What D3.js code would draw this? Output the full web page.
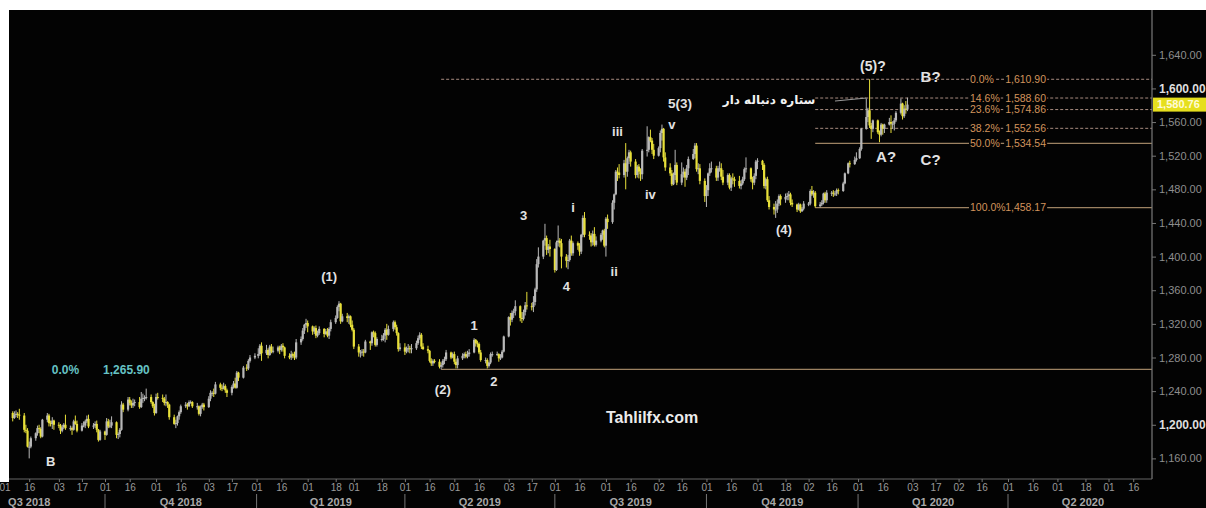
<!DOCTYPE html>
<html><head><meta charset="utf-8">
<script src="https://cdn.jsdelivr.net/npm/d3@7"></script>
<style>body{margin:0;background:#fff}svg{display:block}</style>
</head><body><svg id="c" width="1206" height="508"></svg>
<script>
// ---------------- DATA (XAU/USD daily) ----------------
const months = ["2018-08","2018-09","2018-10","2018-11","2018-12","2019-01","2019-02","2019-03","2019-04","2019-05","2019-06","2019-07","2019-08","2019-09","2019-10","2019-11","2019-12","2020-01"];
const monthDays = [
 [1,2,3,6,7,8,9,10,13,14,15,16,17,20,21,22,23,24,27,28,29,30,31],
 [3,4,5,6,7,10,11,12,13,14,17,18,19,20,21,24,25,26,27,28],
 [1,2,3,4,5,8,9,10,11,12,15,16,17,18,19,22,23,24,25,26,29,30,31],
 [1,2,5,6,7,8,9,12,13,14,15,16,19,20,21,22,23,26,27,28,29,30],
 [3,4,5,6,7,10,11,12,13,14,17,18,19,20,21,24,26,27,28,31],
 [2,3,4,7,8,9,10,11,14,15,16,17,18,21,22,23,24,25,28,29,30,31],
 [1,4,5,6,7,8,11,12,13,14,15,18,19,20,21,22,25,26,27,28],
 [1,4,5,6,7,8,11,12,13,14,15,18,19,20,21,22,25,26,27,28,29],
 [1,2,3,4,5,8,9,10,11,12,15,16,17,18,19,22,23,24,25,26,29,30],
 [1,2,3,6,7,8,9,10,13,14,15,16,17,20,21,22,23,24,27,28,29,30,31],
 [3,4,5,6,7,10,11,12,13,14,17,18,19,20,21,24,25,26,27,28],
 [1,2,3,4,5,8,9,10,11,12,15,16,17,18,19,22,23,24,25,26,29,30,31],
 [1,2,5,6,7,8,9,12,13,14,15,16,19,20,21,22,23,26,27,28,29,30],
 [2,3,4,5,6,9,10,11,12,13,16,17,18,19,20,23,24,25,26,27,30],
 [1,2,3,4,7,8,9,10,11,14,15,16,17,18,21,22,23,24,25,28,29,30,31],
 [1,4,5,6,7,8,11,12,13,14,15,18,19,20,21,22,25,26,27,28,29],
 [2,3,4,5,6,9,10,11,12,13,16,17,18,19,20,23,24,26,27,30,31],
 [2,3,6,7,8,9,10,13,14,15,16,17,20,21,22,23,24,27,28,29,30,31]
];
const opens = [
 [1223,1216,1208,1214,1208,1212,1213,1212,1211,1194,1193,1174,1174,1184,1190,1196,1195,1186,1206,1211,1202,1201,1205],
 [1200,1199,1193,1197,1200,1196,1196,1194,1204,1201,1193,1199,1199,1204,1207,1198,1199,1201,1194,1182],
 [1192,1188,1204,1198,1199,1203,1188,1189,1194,1224,1218,1230,1226,1223,1226,1227,1221,1231,1232,1232,1233,1227,1222],
 [1214,1233,1232,1231,1226,1227,1224,1209,1201,1202,1210,1215,1222,1224,1222,1227,1227,1222,1222,1213,1221,1224],
 [1221,1231,1238,1238,1237,1248,1244,1243,1246,1241,1238,1245,1249,1244,1262,1256,1268,1267,1276,1280],
 [1282,1284,1294,1285,1289,1283,1293,1287,1288,1292,1289,1294,1292,1282,1280,1284,1282,1280,1298,1302,1312,1319],
 [1321,1317,1311,1315,1306,1309,1314,1308,1311,1306,1314,1322,1327,1340,1344,1323,1329,1327,1329,1319],
 [1313,1293,1286,1286,1287,1286,1299,1297,1310,1309,1295,1302,1302,1306,1313,1307,1314,1322,1316,1309,1290],
 [1292,1287,1291,1291,1290,1291,1297,1303,1307,1293,1290,1288,1276,1273,1276,1275,1269,1271,1276,1278,1286,1280],
 [1284,1275,1271,1279,1282,1284,1281,1284,1286,1301,1297,1296,1286,1277,1277,1270,1274,1284,1284,1284,1279,1280,1287],
 [1305,1328,1325,1333,1335,1341,1327,1326,1334,1342,1341,1340,1346,1361,1391,1400,1419,1422,1408,1412],
 [1409,1384,1417,1419,1416,1400,1395,1396,1419,1404,1416,1413,1406,1426,1446,1426,1425,1417,1427,1414,1419,1426,1431],
 [1413,1445,1441,1464,1474,1501,1500,1497,1511,1501,1517,1524,1513,1497,1507,1501,1498,1526,1527,1542,1538,1527],
 [1520,1529,1547,1552,1518,1506,1499,1486,1497,1509,1488,1498,1501,1494,1505,1516,1522,1532,1504,1505,1490],
 [1472,1479,1499,1505,1505,1494,1505,1505,1495,1488,1497,1482,1493,1492,1490,1484,1487,1492,1504,1505,1492,1488,1496],
 [1513,1514,1509,1484,1492,1467,1459,1456,1456,1463,1472,1468,1471,1472,1474,1464,1462,1456,1462,1454,1457],
 [1463,1463,1478,1474,1476,1460,1462,1464,1475,1467,1476,1476,1475,1475,1479,1478,1487,1499,1511,1510,1515],
 [1517,1528,1552,1566,1574,1556,1552,1562,1548,1545,1557,1552,1557,1560,1558,1558,1562,1571,1582,1567,1576,1575]
];
const highs = [
 [1227,1218,1218,1216,1216,1217,1215,1219,1214,1200,1196,1180,1186,1191,1199,1200,1197,1207,1214,1213,1205,1209,1206],
 [1203,1201,1200,1202,1212,1199,1198,1206,1211,1205,1202,1204,1206,1211,1212,1202,1204,1205,1195,1194],
 [1193,1208,1207,1206,1210,1204,1191,1196,1228,1226,1233,1233,1229,1231,1230,1233,1239,1237,1235,1243,1236,1228,1225],
 [1237,1238,1236,1233,1236,1228,1225,1212,1206,1211,1217,1224,1227,1226,1229,1229,1228,1226,1223,1223,1226,1226],
 [1234,1241,1240,1243,1251,1250,1248,1250,1248,1243,1247,1252,1256,1264,1263,1270,1272,1278,1283,1285],
 [1291,1296,1298,1295,1291,1295,1296,1293,1294,1294,1296,1297,1293,1285,1288,1286,1287,1302,1305,1315,1320,1326],
 [1324,1318,1317,1318,1312,1317,1315,1314,1315,1316,1325,1330,1342,1347,1345,1332,1333,1331,1330,1324],
 [1315,1296,1289,1290,1290,1301,1300,1311,1312,1311,1304,1307,1309,1315,1320,1318,1324,1324,1319,1310,1297],
 [1297,1293,1296,1294,1296,1300,1306,1310,1309,1297,1294,1289,1279,1278,1278,1278,1274,1278,1281,1289,1287,1286],
 [1287,1278,1282,1285,1286,1287,1288,1290,1303,1302,1300,1298,1289,1280,1279,1275,1286,1287,1287,1285,1284,1289,1306],
 [1329,1333,1336,1338,1348,1342,1334,1337,1346,1358,1345,1353,1363,1397,1411,1420,1439,1425,1415,1420],
 [1410,1419,1437,1422,1421,1403,1402,1421,1425,1418,1418,1416,1427,1449,1453,1430,1428,1431,1435,1424,1428,1432,1433],
 [1447,1450,1467,1475,1503,1506,1510,1515,1535,1519,1527,1526,1516,1509,1510,1505,1528,1555,1543,1551,1541,1534],
 [1531,1550,1557,1553,1524,1511,1503,1500,1527,1512,1512,1506,1504,1509,1519,1528,1535,1535,1511,1510,1493],
 [1485,1500,1511,1513,1508,1508,1513,1511,1503,1499,1499,1495,1499,1495,1496,1491,1495,1506,1518,1506,1495,1499,1515],
 [1517,1515,1511,1494,1495,1472,1463,1466,1468,1474,1474,1475,1476,1478,1476,1468,1463,1464,1463,1459,1466],
 [1465,1480,1484,1479,1478,1465,1467,1476,1477,1479,1478,1479,1478,1481,1481,1489,1500,1512,1514,1519,1524],
 [1530,1553,1588,1577,1610.9,1559,1563,1563,1550,1559,1558,1558,1565,1568,1561,1565,1573,1588,1583,1580,1585,1589]
];
const lows = [
 [1212,1204,1206,1204,1207,1209,1208,1206,1191,1190,1173,1160,1172,1181,1187,1190,1184,1185,1203,1198,1198,1195,1194],
 [1196,1189,1191,1195,1194,1193,1188,1193,1200,1191,1192,1197,1196,1202,1196,1195,1196,1191,1180,1181],
 [1182,1187,1196,1196,1196,1184,1183,1185,1193,1215,1216,1223,1220,1220,1222,1219,1220,1226,1228,1230,1225,1220,1211],
 [1213,1230,1227,1223,1222,1220,1206,1200,1196,1199,1206,1213,1220,1218,1221,1225,1220,1218,1211,1210,1219,1217],
 [1220,1228,1234,1233,1236,1241,1240,1242,1238,1233,1235,1243,1243,1243,1252,1255,1264,1265,1274,1278],
 [1279,1282,1276,1283,1279,1282,1285,1285,1286,1284,1287,1287,1279,1278,1277,1279,1277,1278,1295,1300,1308,1315],
 [1310,1307,1308,1303,1304,1307,1304,1307,1304,1302,1311,1320,1326,1335,1320,1322,1322,1320,1316,1311],
 [1290,1281,1280,1282,1281,1285,1289,1294,1304,1293,1293,1299,1300,1298,1301,1306,1311,1313,1306,1287,1288],
 [1283,1285,1286,1285,1285,1289,1295,1301,1290,1289,1285,1274,1270,1270,1273,1267,1265.9,1268,1272,1276,1278,1279],
 [1272,1267,1267,1277,1279,1279,1279,1281,1285,1293,1292,1284,1275,1273,1267,1268,1272,1281,1282,1275,1277,1279,1286],
 [1304,1318,1322,1327,1330,1323,1321,1324,1330,1337,1336,1334,1342,1358,1387,1397,1413,1402,1404,1400],
 [1381,1383,1412,1411,1386,1387,1385,1394,1401,1401,1408,1401,1403,1423,1423,1420,1412,1413,1412,1412,1417,1420,1411],
 [1400,1433,1439,1456,1473,1490,1493,1494,1480,1495,1510,1507,1493,1494,1493,1490,1492,1519,1524,1536,1522,1516],
 [1519,1524,1538,1513,1502,1496,1484,1485,1491,1485,1485,1494,1483,1491,1497,1515,1517,1501,1498,1486,1465],
 [1459,1472,1496,1500,1490,1490,1501,1491,1485,1485,1480,1478,1486,1483,1481,1480,1485,1490,1500,1489,1480,1485,1492],
 [1504,1503,1481,1480,1465,1456,1450,1446,1452,1460,1461,1464,1467,1467,1461,1459,1453,1455,1452,1453,1455],
 [1460,1461,1472,1470,1458.17,1458.5,1460,1462,1464,1464,1472,1471,1472,1472,1474,1477,1486,1498,1506,1509,1513],
 [1516,1526,1551,1560,1553,1540,1548,1546,1536,1543,1545,1547,1556,1547,1552,1550,1560,1569,1563,1565,1570,1573]
];
const closes = [
 [1216,1208,1214,1208,1212,1213,1212,1211,1194,1193,1174,1174,1184,1190,1196,1195,1186,1206,1211,1202,1201,1205,1200],
 [1199,1193,1197,1200,1196,1196,1194,1204,1201,1193,1199,1199,1204,1207,1198,1199,1201,1194,1182,1192],
 [1188,1204,1198,1199,1203,1188,1189,1194,1224,1218,1230,1226,1223,1226,1227,1221,1231,1232,1232,1233,1227,1222,1214],
 [1233,1232,1231,1226,1227,1224,1209,1201,1202,1210,1215,1222,1224,1222,1227,1227,1222,1222,1213,1221,1224,1221],
 [1231,1238,1238,1237,1248,1244,1243,1246,1241,1238,1245,1249,1244,1262,1256,1268,1267,1276,1280,1282],
 [1284,1294,1285,1289,1283,1293,1287,1288,1292,1289,1294,1292,1282,1280,1284,1282,1280,1298,1302,1312,1319,1321],
 [1317,1311,1315,1306,1309,1314,1308,1311,1306,1314,1322,1327,1340,1344,1323,1329,1327,1329,1319,1313],
 [1293,1286,1286,1287,1286,1299,1297,1310,1309,1295,1302,1302,1306,1313,1307,1314,1322,1316,1309,1290,1292],
 [1287,1291,1291,1290,1291,1297,1303,1307,1293,1290,1288,1276,1273,1276,1275,1269,1271,1276,1278,1286,1280,1284],
 [1275,1271,1279,1282,1284,1281,1284,1286,1301,1297,1296,1286,1277,1277,1270,1274,1284,1284,1284,1279,1280,1287,1305],
 [1328,1325,1333,1335,1341,1327,1326,1334,1342,1341,1340,1346,1361,1391,1400,1419,1422,1408,1412,1409],
 [1384,1417,1419,1416,1400,1395,1396,1419,1404,1416,1413,1406,1426,1446,1426,1425,1417,1427,1414,1419,1426,1431,1413],
 [1445,1441,1464,1474,1501,1500,1497,1511,1501,1517,1524,1513,1497,1507,1501,1498,1526,1527,1542,1538,1527,1520],
 [1529,1547,1552,1518,1506,1499,1486,1497,1509,1488,1498,1501,1494,1505,1516,1522,1532,1504,1505,1490,1472],
 [1479,1499,1505,1505,1494,1505,1505,1495,1488,1497,1482,1493,1492,1490,1484,1487,1492,1504,1505,1492,1488,1496,1513],
 [1514,1509,1484,1492,1467,1459,1456,1456,1463,1472,1468,1471,1472,1474,1464,1462,1456,1462,1454,1457,1463],
 [1463,1478,1474,1476,1460,1462,1464,1475,1467,1476,1476,1475,1475,1479,1478,1487,1499,1511,1510,1515,1517],
 [1528,1552,1566,1574,1556,1552,1562,1548,1545,1557,1552,1557,1560,1558,1558,1562,1571,1582,1567,1576,1575,1580.76]
];
const lastPrice = 1580.76;

const yTicks = [1160,1200,1240,1280,1320,1360,1400,1440,1480,1520,1560,1600,1640];
const yTicksBold = [1200,1600];
const dayTicks = ["2018-08-01","2018-08-16","2018-09-03","2018-09-17","2018-10-01","2018-10-16","2018-11-01","2018-11-16","2018-12-03","2018-12-17",
 "2019-01-01","2019-01-16","2019-02-01","2019-02-18","2019-03-01","2019-03-18","2019-04-01","2019-04-16","2019-05-01","2019-05-16","2019-06-03","2019-06-17",
 "2019-07-01","2019-07-16","2019-08-01","2019-08-16","2019-09-02","2019-09-16","2019-10-01","2019-10-16","2019-11-01","2019-11-18","2019-12-02","2019-12-16",
 "2020-01-01","2020-01-16","2020-02-03","2020-02-17","2020-03-02","2020-03-16","2020-04-01","2020-04-16","2020-05-01","2020-05-18","2020-06-01","2020-06-16"];
const quarterLabels = ["Q3 2018","Q4 2018","Q1 2019","Q2 2019","Q3 2019","Q4 2019","Q1 2020","Q2 2020"];
const quarterStarts = ["2018-07-01","2018-10-01","2019-01-01","2019-04-01","2019-07-01","2019-10-01","2020-01-01","2020-04-01","2020-07-01"];

// Fibonacci retracement (from 1,458.17 low to 1,610.90 high)
const fibPct    = ["0.0%","14.6%","23.6%","38.2%","50.0%","100.0%"];
const fibLevels = [1610.90,1588.60,1574.86,1552.56,1534.54,1458.17];
const fibDashed = [true,true,true,true,false,false];
const fibStart  = ["2019-04-23","2019-12-06","2019-12-06","2019-12-06","2019-12-06","2019-12-06"];
// earlier fib anchor (wave (2) low)
const baseLevel = 1265.90, baseStart = "2019-04-23";
const baseLabels = ["0.0%","1,265.90"], baseLabelDates = ["2018-09-07","2018-10-14"];

// Elliott wave annotations: text, date, price (anchor centre)
const waveText  = ["B","(1)","(2)","1","2","3","4","i","ii","iii","iv","v","5(3)","(4)","(5)?","B?","A?","C?"];
const waveDate  = ["2018-08-29","2019-02-14","2019-04-24","2019-05-13","2019-05-25","2019-06-12","2019-07-08","2019-07-12","2019-08-06","2019-08-08","2019-08-28","2019-09-10","2019-09-15","2019-11-17","2020-01-10","2020-02-14","2020-01-18","2020-02-14"];
const wavePrice = [1157,1377,1242.5,1318.6,1252,1449.5,1365,1459,1383,1549.4,1474.5,1557.7,1582.7,1432.8,1626.7,1613.6,1518.5,1514.9];
const waveSize  = [13,13,13,13,13,13,13,13,13,13,13,13,13.5,13,14,15,15,15];
const trendDates = ["2019-12-18","2020-01-06"], trendPrices = [1585,1588.6];

// ---------------- DRAWING ----------------
(function () {
const W = 1206, H = 508;
const padL = 9, padT = 10, axisX = 1152, axisY = 479;
const parse = d3.timeParse("%Y-%m-%d");
const svg = d3.select("#c");

const x = d3.scaleTime().domain([parse("2018-10-01"), parse("2020-04-01")]).range([105, 1008]);
const y = d3.scaleLinear().domain([1160, 1640]).range([458.4, 54.8]);

const rows = [];
months.forEach((m, i) => monthDays[i].forEach((d, j) => rows.push({
  date: parse(m + "-" + String(d).padStart(2, "0")),
  o: opens[i][j], h: highs[i][j], l: lows[i][j], c: closes[i][j]
})));

svg.append("rect").attr("width", W).attr("height", H).attr("fill", "#fff");
svg.append("rect").attr("x", padL).attr("y", padT).attr("width", W - padL).attr("height", H - padT).attr("fill", "#030303");
svg.append("rect").attr("x", 0).attr("y", 482).attr("width", padL).attr("height", H - 482).attr("fill", "#030303");

svg.append("defs").append("clipPath").attr("id", "plot")
  .append("rect").attr("x", padL).attr("y", padT).attr("width", axisX - padL).attr("height", axisY - padT);

const plot = svg.append("g").attr("clip-path", "url(#plot)");

plot.append("line").attr("x1", x(parse(baseStart))).attr("x2", axisX)
  .attr("y1", y(baseLevel)).attr("y2", y(baseLevel)).attr("stroke", "#9c8262").attr("stroke-width", 1.2);

fibLevels.forEach((lv, i) => {
  plot.append("line").attr("x1", x(parse(fibStart[i]))).attr("x2", axisX)
    .attr("y1", y(lv)).attr("y2", y(lv))
    .attr("stroke", fibDashed[i] ? "#a88c80" : "#9c8262")
    .attr("stroke-width", fibDashed[i] ? 1 : 1.2)
    .attr("stroke-dasharray", fibDashed[i] ? "3,2" : null);
});

plot.append("line")
  .attr("x1", x(parse(trendDates[0]))).attr("y1", y(trendPrices[0]))
  .attr("x2", x(parse(trendDates[1]))).attr("y2", y(trendPrices[1]))
  .attr("stroke", "#9a9a9a").attr("stroke-width", 1);

const upCol = "#b8b8b8", dnCol = "#e8e03a";
const cg = plot.append("g");
cg.selectAll("line.w").data(rows).join("line")
  .attr("x1", d => x(d.date)).attr("x2", d => x(d.date))
  .attr("y1", d => y(d.h)).attr("y2", d => y(d.l))
  .attr("stroke", d => d.c >= d.o ? upCol : dnCol).attr("stroke-width", 1);
cg.selectAll("rect.b").data(rows).join("rect")
  .attr("x", d => x(d.date) - 1.1).attr("width", 2.2)
  .attr("y", d => y(Math.max(d.o, d.c)))
  .attr("height", d => Math.max(1, Math.abs(y(d.o) - y(d.c))))
  .attr("fill", d => d.c >= d.o ? upCol : dnCol);

const fibFont = "Liberation Sans, Arial, sans-serif";
fibLevels.forEach((lv, i) => {
  const g = svg.append("g");
  const t1 = g.append("text").attr("x", axisX - 182).attr("y", y(lv)).attr("dy", "0.35em")
    .attr("font-family", fibFont).attr("font-size", 10.5).attr("fill", "#d2935c").text(fibPct[i]);
  const t2 = g.append("text").attr("x", axisX - 106).attr("y", y(lv)).attr("dy", "0.35em")
    .attr("text-anchor", "end").attr("font-family", fibFont).attr("font-size", 10.5).attr("fill", "#d2935c")
    .text(d3.format(",.2f")(lv));
  [t1, t2].forEach(t => {
    const b = t.node().getBBox();
    g.insert("rect", "text").attr("x", b.x - 1).attr("y", b.y).attr("width", b.width + 2).attr("height", b.height).attr("fill", "#030303");
  });
});

baseLabels.forEach((s, i) => {
  svg.append("text").attr("x", x(parse(baseLabelDates[i]))).attr("y", y(baseLevel)).attr("dy", "0.35em")
    .attr("text-anchor", "middle").attr("font-family", fibFont).attr("font-size", 12).attr("font-weight", "bold")
    .attr("fill", "#66c2c4").text(s);
});

waveText.forEach((s, i) => {
  svg.append("text").attr("x", x(parse(waveDate[i]))).attr("y", y(wavePrice[i])).attr("dy", "0.36em")
    .attr("text-anchor", "middle").attr("font-family", "Liberation Sans, Arial, sans-serif")
    .attr("font-size", waveSize[i]).attr("font-weight", "bold").attr("fill", "#e2e2e2").text(s);
});

svg.append("text").attr("x", x(parse("2019-11-08"))).attr("y", y(1586)).attr("dy", "0.35em")
  .attr("text-anchor", "middle").attr("font-family", "DejaVu Sans, sans-serif").attr("font-size", 12)
  .attr("font-weight", "bold").attr("fill", "#f2f2f2").attr("direction", "rtl").text("ستاره دنباله دار");
svg.append("text").attr("x", x(parse("2019-08-29"))).attr("y", y(1209)).attr("dy", "0.35em")
  .attr("text-anchor", "middle").attr("font-family", "Liberation Sans, Arial, sans-serif").attr("font-size", 16)
  .attr("font-weight", "bold").attr("fill", "#ececec").text("Tahlilfx.com");

const yAxis = svg.append("g").attr("transform", `translate(${axisX},0)`)
  .call(d3.axisRight(y).tickValues(yTicks).tickSize(4).tickPadding(3).tickFormat(d3.format(",.2f")));
yAxis.select(".domain").remove();
yAxis.selectAll(".tick line").attr("stroke", "#777");
yAxis.selectAll(".tick text")
  .attr("font-family", "Liberation Sans, Arial, sans-serif")
  .attr("font-size", d => yTicksBold.includes(d) ? 12 : 11)
  .attr("font-weight", d => yTicksBold.includes(d) ? "bold" : "normal")
  .attr("fill", d => yTicksBold.includes(d) ? "#dedede" : "#8e8e8e");
svg.append("line").attr("x1", axisX).attr("x2", axisX).attr("y1", padT).attr("y2", axisY)
  .attr("stroke", "#7a7a7a").attr("stroke-width", 1.2);

const py = y(lastPrice);
svg.append("rect").attr("x", axisX + 1).attr("y", py - 7).attr("width", W - axisX - 1).attr("height", 14).attr("fill", "#e6df1e");
svg.append("text").attr("x", axisX + 5).attr("y", py).attr("dy", "0.35em")
  .attr("font-family", "Liberation Sans, Arial, sans-serif").attr("font-size", 11).attr("font-weight", "bold")
  .attr("fill", "#fffbd6").text(d3.format(",.2f")(lastPrice));

svg.append("line").attr("x1", 0).attr("x2", axisX).attr("y1", axisY).attr("y2", axisY)
  .attr("stroke", "#666").attr("stroke-width", 1);
const xAxis = svg.append("g").attr("transform", `translate(0,${axisY})`)
  .call(d3.axisBottom(x).tickValues(dayTicks.map(parse)).tickSize(3).tickPadding(2).tickFormat(d3.timeFormat("%d")));
xAxis.select(".domain").remove();
xAxis.selectAll(".tick line").attr("stroke", "#777");
xAxis.selectAll(".tick text").attr("font-family", "Liberation Sans, Arial, sans-serif")
  .attr("font-size", 10).attr("fill", "#9a9a9a");

const qs = quarterStarts.map(parse);
quarterLabels.forEach((q, i) => {
  const cx = (x(qs[i]) + x(qs[i + 1])) / 2;
  svg.append("text").attr("x", cx).attr("y", 506).attr("text-anchor", "middle")
    .attr("font-family", "Liberation Sans, Arial, sans-serif").attr("font-size", 11).attr("font-weight", "bold")
    .attr("fill", "#a8a8a8").text(q);
});
qs.slice(1, -1).forEach(d => {
  svg.append("line").attr("x1", x(d)).attr("x2", x(d)).attr("y1", 494).attr("y2", 508)
    .attr("stroke", "#777").attr("stroke-width", 1);
});

svg.append("rect").attr("x", 0).attr("y", 0).attr("width", W).attr("height", padT).attr("fill", "#fff");
svg.append("rect").attr("x", 0).attr("y", 0).attr("width", padL).attr("height", 482).attr("fill", "#fff");
})();
</script>
</body></html>
